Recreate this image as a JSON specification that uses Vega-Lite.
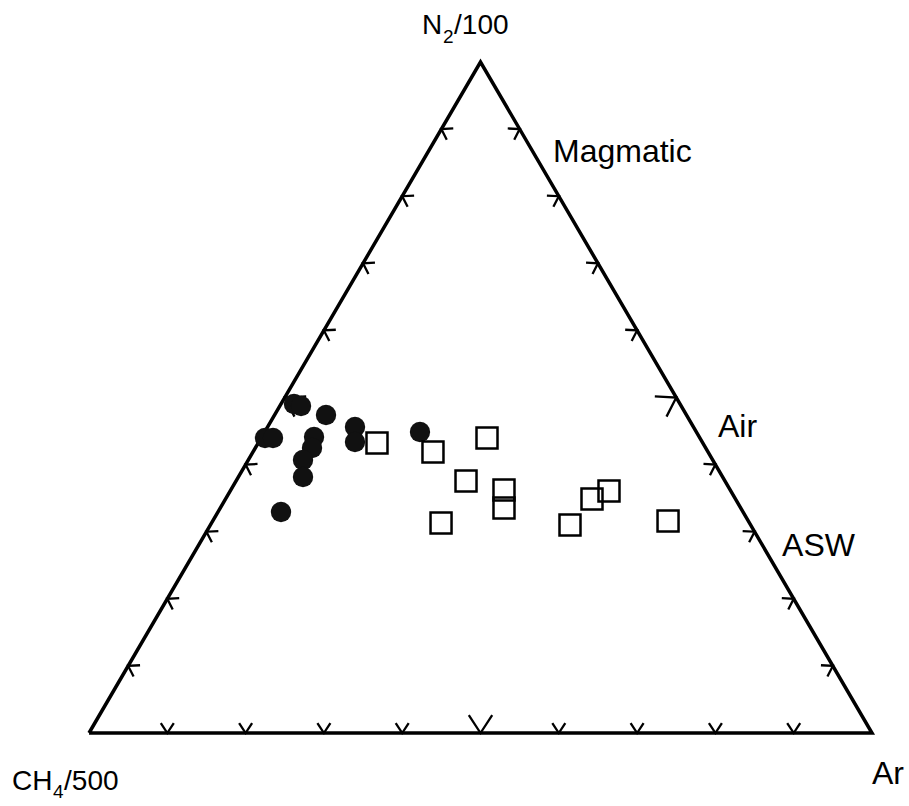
{
  "$schema": "https://vega.github.io/schema/vega-lite/v6.json",
  "width": 909,
  "height": 806,
  "autosize": {"type": "none"},
  "padding": 0,
  "background": "white",
  "config": {"view": {"stroke": null}},
  "datasets": {
    "triangle": [
      {"x": 0, "y": 0, "o": 0},
      {"x": 50, "y": 100, "o": 1},
      {"x": 100, "y": 0, "o": 2},
      {"x": 0, "y": 0, "o": 3}
    ],
    "ticks": [
      {"edge": "left", "x": 5, "y": 10, "kind": "minor"},
      {"edge": "left", "x": 10, "y": 20, "kind": "minor"},
      {"edge": "left", "x": 15, "y": 30, "kind": "minor"},
      {"edge": "left", "x": 20, "y": 40, "kind": "minor"},
      {"edge": "left", "x": 25, "y": 50, "kind": "major"},
      {"edge": "left", "x": 30, "y": 60, "kind": "minor"},
      {"edge": "left", "x": 35, "y": 70, "kind": "minor"},
      {"edge": "left", "x": 40, "y": 80, "kind": "minor"},
      {"edge": "left", "x": 45, "y": 90, "kind": "minor"},
      {"edge": "right", "x": 95, "y": 10, "kind": "minor"},
      {"edge": "right", "x": 90, "y": 20, "kind": "minor"},
      {"edge": "right", "x": 85, "y": 30, "kind": "minor"},
      {"edge": "right", "x": 80, "y": 40, "kind": "minor"},
      {"edge": "right", "x": 75, "y": 50, "kind": "major"},
      {"edge": "right", "x": 70, "y": 60, "kind": "minor"},
      {"edge": "right", "x": 65, "y": 70, "kind": "minor"},
      {"edge": "right", "x": 60, "y": 80, "kind": "minor"},
      {"edge": "right", "x": 55, "y": 90, "kind": "minor"},
      {"edge": "bottom", "x": 10, "y": 0, "kind": "minor"},
      {"edge": "bottom", "x": 20, "y": 0, "kind": "minor"},
      {"edge": "bottom", "x": 30, "y": 0, "kind": "minor"},
      {"edge": "bottom", "x": 40, "y": 0, "kind": "minor"},
      {"edge": "bottom", "x": 50, "y": 0, "kind": "major"},
      {"edge": "bottom", "x": 60, "y": 0, "kind": "minor"},
      {"edge": "bottom", "x": 70, "y": 0, "kind": "minor"},
      {"edge": "bottom", "x": 80, "y": 0, "kind": "minor"},
      {"edge": "bottom", "x": 90, "y": 0, "kind": "minor"}
    ],
    "circles": [
      {"x": 26.18, "y": 49.03},
      {"x": 27.08, "y": 48.73},
      {"x": 30.27, "y": 47.39},
      {"x": 22.48, "y": 43.96},
      {"x": 23.5, "y": 43.96},
      {"x": 28.74, "y": 44.11},
      {"x": 28.48, "y": 42.47},
      {"x": 27.33, "y": 40.69},
      {"x": 27.33, "y": 38.15},
      {"x": 33.97, "y": 45.6},
      {"x": 33.97, "y": 43.37},
      {"x": 42.27, "y": 44.86},
      {"x": 24.52, "y": 32.94}
    ],
    "squares": [
      {"x": 36.78, "y": 43.22},
      {"x": 43.93, "y": 41.88},
      {"x": 50.83, "y": 43.96},
      {"x": 48.15, "y": 37.56},
      {"x": 53.0, "y": 36.21},
      {"x": 53.0, "y": 33.53},
      {"x": 44.96, "y": 31.3},
      {"x": 61.43, "y": 31.0},
      {"x": 64.24, "y": 34.87},
      {"x": 66.41, "y": 36.07},
      {"x": 73.95, "y": 31.59}
    ],
    "sourceLabels": [
      {"x": 59.26, "y": 85.1, "text": "Magmatic"},
      {"x": 80.33, "y": 44.11, "text": "Air"},
      {"x": 88.51, "y": 26.38, "text": "ASW"},
      {"x": 100.0, "y": -7.6, "text": "Ar"}
    ],
    "apexLabels": [
      {"x": 42.53, "y": 104.17, "text": "N"},
      {"x": 46.62, "y": 104.17, "text": "/100"},
      {"x": -9.83, "y": -8.49, "text": "CH"},
      {"x": -3.19, "y": -8.49, "text": "/500"}
    ],
    "subscripts": [
      {"x": 45.21, "y": 102.83, "text": "2"},
      {"x": -4.6, "y": -9.69, "text": "4"}
    ]
  },
  "encoding": {
    "x": {"field": "x", "type": "quantitative", "axis": null, "scale": {"domain": [-11.367, 104.725], "nice": false, "zero": false}},
    "y": {"field": "y", "type": "quantitative", "axis": null, "scale": {"domain": [-10.879, 109.24], "nice": false, "zero": false}}
  },
  "layer": [
    {
      "data": {"name": "triangle"},
      "mark": {"type": "line", "color": "black", "strokeWidth": 3.5, "strokeJoin": "miter"},
      "encoding": {"order": {"field": "o", "type": "quantitative"}}
    },
    {
      "data": {"name": "ticks"},
      "transform": [{"filter": "datum.edge === 'left'"}],
      "mark": {"type": "point", "shape": "M-0.65,-1L0,0L0.65,-1", "angle": 120, "filled": false, "stroke": "black", "strokeWidth": 2.3, "opacity": 1},
      "encoding": {"size": {"field": "kind", "type": "nominal", "scale": {"domain": ["minor", "major"], "range": [400, 1296]}, "legend": null}}
    },
    {
      "data": {"name": "ticks"},
      "transform": [{"filter": "datum.edge === 'right'"}],
      "mark": {"type": "point", "shape": "M-0.65,-1L0,0L0.65,-1", "angle": 240, "filled": false, "stroke": "black", "strokeWidth": 2.3, "opacity": 1},
      "encoding": {"size": {"field": "kind", "type": "nominal", "scale": {"domain": ["minor", "major"], "range": [400, 1296]}, "legend": null}}
    },
    {
      "data": {"name": "ticks"},
      "transform": [{"filter": "datum.edge === 'bottom'"}],
      "mark": {"type": "point", "shape": "M-0.65,-1L0,0L0.65,-1", "angle": 0, "filled": false, "stroke": "black", "strokeWidth": 2.3, "opacity": 1},
      "encoding": {"size": {"field": "kind", "type": "nominal", "scale": {"domain": ["minor", "major"], "range": [400, 1296]}, "legend": null}}
    },
    {
      "data": {"name": "circles"},
      "mark": {"type": "circle", "color": "#111111", "size": 415, "opacity": 1}
    },
    {
      "data": {"name": "squares"},
      "mark": {"type": "square", "filled": false, "stroke": "black", "strokeWidth": 2.5, "size": 441, "opacity": 1}
    },
    {
      "data": {"name": "sourceLabels"},
      "mark": {"type": "text", "align": "left", "baseline": "alphabetic", "font": "Liberation Sans", "fontSize": 32, "color": "black"},
      "encoding": {"text": {"field": "text", "type": "nominal"}}
    },
    {
      "data": {"name": "apexLabels"},
      "mark": {"type": "text", "align": "left", "baseline": "alphabetic", "font": "Liberation Sans", "fontSize": 28, "color": "black"},
      "encoding": {"text": {"field": "text", "type": "nominal"}}
    },
    {
      "data": {"name": "subscripts"},
      "mark": {"type": "text", "align": "left", "baseline": "alphabetic", "font": "Liberation Sans", "fontSize": 19, "color": "black"},
      "encoding": {"text": {"field": "text", "type": "nominal"}}
    }
  ]
}
